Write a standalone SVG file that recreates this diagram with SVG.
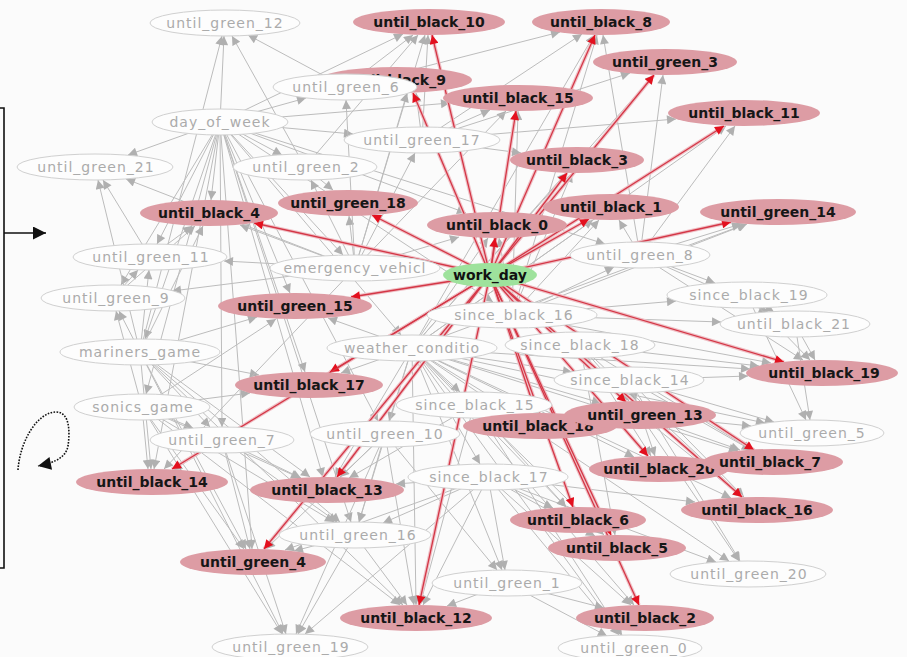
<svg xmlns="http://www.w3.org/2000/svg" width="907" height="657" viewBox="0 0 907 657">
<defs>
<marker id="ag" viewBox="0 0 10 10" refX="10" refY="5" markerWidth="10" markerHeight="9" markerUnits="userSpaceOnUse" orient="auto"><path d="M0,0L10,5L0,10z" fill="#b0b0b0"/></marker>
<marker id="ar" viewBox="0 0 10 10" refX="10" refY="5" markerWidth="11" markerHeight="9" markerUnits="userSpaceOnUse" orient="auto"><path d="M0,0L10,5L0,10z" fill="#e3101e"/></marker>
<marker id="ak" viewBox="0 0 10 10" refX="10" refY="5" markerWidth="16" markerHeight="13" markerUnits="userSpaceOnUse" orient="auto"><path d="M0,0L10,5L0,10z" fill="#111"/></marker>
<style>
.ge line{stroke:#bcbcbc;stroke-width:1;marker-end:url(#ag)}
.halo line{stroke:#efc0c6;stroke-width:3.6}
.re line{stroke:#d43646;stroke-width:1.3;marker-end:url(#ar)}
.pk ellipse{fill:#dd9ca4}
.pk text{font-family:"DejaVu Sans",sans-serif;font-size:14px;font-weight:bold;fill:#161616;text-anchor:middle}
.wh ellipse{fill:#fdfdfd;stroke:#d0d0d0;stroke-width:1}
.wh text{font-family:"DejaVu Sans",sans-serif;font-size:14px;fill:#ababab;letter-spacing:1px;text-anchor:middle}
.gr ellipse{fill:#9ee29c}
.gr text{font-family:"DejaVu Sans",sans-serif;font-size:14px;font-weight:bold;fill:#111;text-anchor:middle}
</style>
</defs>
<rect width="907" height="657" fill="#fbfbfb"/>

<!-- side bracket and legend arrows -->
<g id="legend" fill="none" stroke="#111">
<path d="M0,108H4V568H0" stroke-width="1.6"/>
<line x1="4" y1="233" x2="46" y2="233" stroke-width="1.6" marker-end="url(#ak)"/>
<path d="M18,470C20,440 38,412 56,412C70,412 70,432 68,446C66,456 58,462 38,466" stroke-width="1.6" stroke-dasharray="1.6 1.4" marker-end="url(#ak)"/>
</g>

<g id="connectors">
<g class="ge">
<!-- day_of_week -->
<line x1="220" y1="122" x2="128" y2="155"/><line x1="220" y1="122" x2="211" y2="200"/><line x1="220" y1="122" x2="157" y2="244"/><line x1="220" y1="122" x2="121" y2="285"/><line x1="220" y1="122" x2="224" y2="36"/><line x1="220" y1="122" x2="353" y2="134"/><line x1="220" y1="122" x2="306" y2="98"/><line x1="220" y1="122" x2="403" y2="34"/><line x1="220" y1="122" x2="282" y2="155"/><line x1="220" y1="122" x2="145" y2="339"/><line x1="220" y1="122" x2="146" y2="394"/><line x1="220" y1="122" x2="222" y2="427"/><line x1="220" y1="122" x2="154" y2="469"/><line x1="220" y1="122" x2="305" y2="372"/><line x1="220" y1="122" x2="290" y2="293"/><line x1="220" y1="122" x2="323" y2="477"/><line x1="220" y1="122" x2="252" y2="549"/><line x1="220" y1="122" x2="378" y2="421"/><line x1="220" y1="122" x2="351" y2="522"/><line x1="220" y1="122" x2="493" y2="302"/><line x1="220" y1="122" x2="466" y2="213"/><line x1="220" y1="122" x2="605" y2="244"/><line x1="220" y1="122" x2="343" y2="255"/><line x1="220" y1="122" x2="401" y2="335"/><line x1="220" y1="122" x2="450" y2="103"/>
<!-- mariners_game -->
<line x1="140" y1="352" x2="119" y2="311"/><line x1="140" y1="352" x2="149" y2="270"/><line x1="140" y1="352" x2="98" y2="180"/><line x1="140" y1="352" x2="203" y2="226"/><line x1="140" y1="352" x2="222" y2="36"/><line x1="140" y1="352" x2="151" y2="469"/><line x1="140" y1="352" x2="210" y2="427"/><line x1="140" y1="352" x2="246" y2="549"/><line x1="140" y1="352" x2="283" y2="634"/><line x1="140" y1="352" x2="310" y2="477"/><line x1="140" y1="352" x2="340" y2="522"/><line x1="140" y1="352" x2="403" y2="605"/><line x1="140" y1="352" x2="259" y2="375"/><line x1="140" y1="352" x2="257" y2="317"/>
<!-- sonics_game -->
<line x1="142" y1="407" x2="148" y2="469"/><line x1="142" y1="407" x2="193" y2="428"/><line x1="142" y1="407" x2="244" y2="549"/><line x1="142" y1="407" x2="282" y2="634"/><line x1="142" y1="407" x2="334" y2="522"/><line x1="142" y1="407" x2="250" y2="393"/><line x1="142" y1="407" x2="276" y2="319"/><line x1="142" y1="407" x2="400" y2="605"/><line x1="142" y1="407" x2="116" y2="311"/><line x1="142" y1="407" x2="300" y2="478"/>
<!-- weather_conditio -->
<line x1="412" y1="348" x2="341" y2="373"/><line x1="412" y1="348" x2="328" y2="318"/><line x1="412" y1="348" x2="389" y2="421"/><line x1="412" y1="348" x2="460" y2="392"/><line x1="412" y1="348" x2="335" y2="477"/><line x1="412" y1="348" x2="359" y2="522"/><line x1="412" y1="348" x2="416" y2="605"/><line x1="412" y1="348" x2="502" y2="570"/><line x1="412" y1="348" x2="480" y2="464"/><line x1="412" y1="348" x2="519" y2="414"/><line x1="412" y1="348" x2="566" y2="507"/><line x1="412" y1="348" x2="604" y2="535"/><line x1="412" y1="348" x2="601" y2="403"/><line x1="412" y1="348" x2="634" y2="457"/><line x1="412" y1="348" x2="621" y2="635"/><line x1="412" y1="348" x2="634" y2="605"/><line x1="412" y1="348" x2="750" y2="369"/><line x1="412" y1="348" x2="765" y2="423"/><line x1="412" y1="348" x2="572" y2="372"/><line x1="412" y1="348" x2="729" y2="561"/><line x1="412" y1="348" x2="738" y2="451"/><line x1="412" y1="348" x2="731" y2="498"/><line x1="412" y1="348" x2="488" y2="238"/><line x1="412" y1="348" x2="593" y2="220"/><line x1="412" y1="348" x2="566" y2="173"/><line x1="412" y1="348" x2="746" y2="224"/><line x1="412" y1="348" x2="726" y2="126"/><line x1="412" y1="348" x2="654" y2="75"/><line x1="412" y1="348" x2="594" y2="35"/>
<!-- emergency_vehicl -->
<line x1="355" y1="268" x2="311" y2="180"/><line x1="355" y1="268" x2="349" y2="216"/><line x1="355" y1="268" x2="415" y2="153"/><line x1="355" y1="268" x2="425" y2="35"/><line x1="355" y1="268" x2="407" y2="93"/><line x1="355" y1="268" x2="506" y2="111"/><line x1="355" y1="268" x2="346" y2="100"/><line x1="355" y1="268" x2="240" y2="225"/><line x1="355" y1="268" x2="224" y2="261"/><line x1="355" y1="268" x2="172" y2="291"/><line x1="355" y1="268" x2="164" y2="469"/><line x1="355" y1="268" x2="126" y2="179"/><line x1="355" y1="268" x2="459" y2="237"/>
<!-- since_black_16 -->
<line x1="512" y1="315" x2="499" y2="238"/><line x1="512" y1="315" x2="599" y2="220"/><line x1="512" y1="315" x2="572" y2="173"/><line x1="512" y1="315" x2="614" y2="267"/><line x1="512" y1="315" x2="771" y2="363"/><line x1="512" y1="315" x2="676" y2="301"/><line x1="512" y1="315" x2="721" y2="322"/><line x1="512" y1="315" x2="747" y2="224"/><line x1="512" y1="315" x2="518" y2="111"/><line x1="512" y1="315" x2="597" y2="35"/>
<!-- until_green_8 -->
<line x1="640" y1="255" x2="741" y2="224"/><line x1="640" y1="255" x2="735" y2="126"/><line x1="640" y1="255" x2="663" y2="75"/><line x1="640" y1="255" x2="619" y2="220"/><line x1="640" y1="255" x2="715" y2="283"/><line x1="640" y1="255" x2="768" y2="312"/><line x1="640" y1="255" x2="803" y2="360"/><line x1="640" y1="255" x2="603" y2="35"/>
<!-- since_black_19, until_black_21 -->
<line x1="747" y1="295" x2="774" y2="312"/><line x1="747" y1="295" x2="810" y2="360"/><line x1="747" y1="295" x2="806" y2="420"/>
<line x1="795" y1="324" x2="815" y2="360"/><line x1="795" y1="324" x2="810" y2="420"/>
<!-- since_black_14 -->
<line x1="629" y1="380" x2="748" y2="376"/><line x1="629" y1="380" x2="636" y2="401"/><line x1="629" y1="380" x2="751" y2="450"/><line x1="629" y1="380" x2="655" y2="456"/><line x1="629" y1="380" x2="744" y2="497"/><line x1="629" y1="380" x2="774" y2="422"/><line x1="629" y1="380" x2="740" y2="561"/>
<!-- since_black_18 -->
<line x1="580" y1="345" x2="759" y2="366"/><line x1="580" y1="345" x2="629" y2="401"/><line x1="580" y1="345" x2="752" y2="450"/><line x1="580" y1="345" x2="651" y2="456"/><line x1="580" y1="345" x2="743" y2="497"/><line x1="580" y1="345" x2="615" y2="535"/>
<!-- since_black_17 -->
<line x1="488" y1="477" x2="423" y2="605"/><line x1="488" y1="477" x2="505" y2="570"/><line x1="488" y1="477" x2="553" y2="508"/><line x1="488" y1="477" x2="595" y2="536"/><line x1="488" y1="477" x2="631" y2="605"/><line x1="488" y1="477" x2="619" y2="635"/><line x1="488" y1="477" x2="716" y2="562"/><line x1="488" y1="477" x2="695" y2="502"/><line x1="488" y1="477" x2="396" y2="484"/><line x1="488" y1="477" x2="383" y2="523"/><line x1="488" y1="477" x2="305" y2="634"/><line x1="488" y1="477" x2="285" y2="550"/>
<!-- until_green_10 -->
<line x1="385" y1="434" x2="340" y2="477"/><line x1="385" y1="434" x2="359" y2="522"/><line x1="385" y1="434" x2="414" y2="605"/><line x1="385" y1="434" x2="266" y2="549"/><line x1="385" y1="434" x2="296" y2="634"/><line x1="385" y1="434" x2="497" y2="570"/>
<!-- until_green_7 -->
<line x1="222" y1="440" x2="173" y2="470"/><line x1="222" y1="440" x2="250" y2="549"/><line x1="222" y1="440" x2="301" y2="478"/><line x1="222" y1="440" x2="286" y2="634"/><line x1="222" y1="440" x2="337" y2="522"/>
<!-- since_black_15 -->
<line x1="474" y1="405" x2="566" y2="507"/><line x1="474" y1="405" x2="349" y2="478"/><line x1="474" y1="405" x2="420" y2="605"/><line x1="474" y1="405" x2="622" y2="635"/>
<!-- until_green_17 -->
<line x1="422" y1="140" x2="490" y2="110"/><line x1="422" y1="140" x2="428" y2="35"/><line x1="422" y1="140" x2="416" y2="93"/><line x1="422" y1="140" x2="521" y2="153"/><line x1="422" y1="140" x2="582" y2="34"/><line x1="422" y1="140" x2="630" y2="73"/><line x1="422" y1="140" x2="676" y2="119"/>
<!-- until_green_2, until_green_6 -->
<line x1="305" y1="167" x2="333" y2="190"/><line x1="305" y1="167" x2="418" y2="35"/><line x1="305" y1="167" x2="232" y2="36"/>
<line x1="345" y1="87" x2="413" y2="35"/><line x1="345" y1="87" x2="248" y2="35"/><line x1="345" y1="87" x2="560" y2="32"/>
<!-- lower greens -->
<line x1="507" y1="583" x2="447" y2="606"/><line x1="507" y1="583" x2="604" y2="608"/><line x1="507" y1="583" x2="607" y2="636"/>
<line x1="355" y1="535" x2="298" y2="634"/><line x1="355" y1="535" x2="407" y2="605"/><line x1="355" y1="535" x2="294" y2="551"/>
<line x1="640" y1="415" x2="751" y2="426"/><line x1="640" y1="415" x2="740" y2="450"/><line x1="640" y1="415" x2="742" y2="497"/><line x1="640" y1="415" x2="739" y2="561"/>
<!-- left greens -->
<line x1="150" y1="257" x2="103" y2="180"/><line x1="150" y1="257" x2="192" y2="226"/>
<line x1="113" y1="298" x2="138" y2="270"/><line x1="113" y1="298" x2="195" y2="226"/>
</g>
<g class="halo">
<line x1="490" y1="275" x2="432" y2="35"/><line x1="490" y1="275" x2="595" y2="35"/><line x1="490" y1="275" x2="654" y2="75"/><line x1="490" y1="275" x2="724" y2="126"/><line x1="490" y1="275" x2="413" y2="93"/><line x1="490" y1="275" x2="516" y2="111"/><line x1="490" y1="275" x2="567" y2="173"/><line x1="490" y1="275" x2="372" y2="215"/><line x1="490" y1="275" x2="589" y2="219"/><line x1="490" y1="275" x2="731" y2="222"/><line x1="490" y1="275" x2="495" y2="238"/><line x1="490" y1="275" x2="254" y2="223"/><line x1="490" y1="275" x2="351" y2="297"/><line x1="490" y1="275" x2="330" y2="372"/><line x1="490" y1="275" x2="172" y2="469"/><line x1="490" y1="275" x2="337" y2="477"/><line x1="490" y1="275" x2="264" y2="549"/><line x1="490" y1="275" x2="419" y2="605"/><line x1="490" y1="275" x2="536" y2="413"/><line x1="490" y1="275" x2="626" y2="402"/><line x1="490" y1="275" x2="648" y2="456"/><line x1="490" y1="275" x2="754" y2="450"/><line x1="490" y1="275" x2="742" y2="497"/><line x1="490" y1="275" x2="573" y2="507"/><line x1="490" y1="275" x2="611" y2="535"/><line x1="490" y1="275" x2="639" y2="605"/><line x1="490" y1="275" x2="784" y2="362"/>
</g>
<g class="re">
<line x1="490" y1="275" x2="432" y2="35"/><line x1="490" y1="275" x2="595" y2="35"/><line x1="490" y1="275" x2="654" y2="75"/><line x1="490" y1="275" x2="724" y2="126"/><line x1="490" y1="275" x2="413" y2="93"/><line x1="490" y1="275" x2="516" y2="111"/><line x1="490" y1="275" x2="567" y2="173"/><line x1="490" y1="275" x2="372" y2="215"/><line x1="490" y1="275" x2="589" y2="219"/><line x1="490" y1="275" x2="731" y2="222"/><line x1="490" y1="275" x2="495" y2="238"/><line x1="490" y1="275" x2="254" y2="223"/><line x1="490" y1="275" x2="351" y2="297"/><line x1="490" y1="275" x2="330" y2="372"/><line x1="490" y1="275" x2="172" y2="469"/><line x1="490" y1="275" x2="337" y2="477"/><line x1="490" y1="275" x2="264" y2="549"/><line x1="490" y1="275" x2="419" y2="605"/><line x1="490" y1="275" x2="536" y2="413"/><line x1="490" y1="275" x2="626" y2="402"/><line x1="490" y1="275" x2="648" y2="456"/><line x1="490" y1="275" x2="754" y2="450"/><line x1="490" y1="275" x2="742" y2="497"/><line x1="490" y1="275" x2="573" y2="507"/><line x1="490" y1="275" x2="611" y2="535"/><line x1="490" y1="275" x2="639" y2="605"/><line x1="490" y1="275" x2="784" y2="362"/>
</g>
</g>

<!-- variables without evidence -->
<g id="until_green_12" class="wh"><ellipse cx="225" cy="23" rx="75" ry="13"/><text x="225" y="28">until_green_12</text></g>
<g id="day_of_week" class="wh"><ellipse cx="220" cy="122" rx="68" ry="13"/><text x="220" y="127">day_of_week</text></g>
<g id="until_green_21" class="wh"><ellipse cx="95" cy="167" rx="78" ry="13"/><text x="96" y="172">until_green_21</text></g>
<g id="until_green_17" class="wh"><ellipse cx="422" cy="140" rx="78" ry="13"/><text x="422" y="145">until_green_17</text></g>
<g id="until_green_2" class="wh"><ellipse cx="305" cy="167" rx="72" ry="13"/><text x="306" y="172">until_green_2</text></g>
<g id="until_green_11" class="wh"><ellipse cx="150" cy="257" rx="77" ry="13"/><text x="151" y="262">until_green_11</text></g>
<g id="until_green_9" class="wh"><ellipse cx="113" cy="298" rx="72" ry="13"/><text x="116" y="303">until_green_9</text></g>
<g id="emergency_vehicl" class="wh"><ellipse cx="355" cy="268" rx="85" ry="13"/><text x="355" y="273">emergency_vehicl</text></g>
<g id="until_green_8" class="wh"><ellipse cx="640" cy="255" rx="70" ry="13"/><text x="640" y="260">until_green_8</text></g>
<g id="since_black_19" class="wh"><ellipse cx="747" cy="295" rx="80" ry="13"/><text x="749" y="300">since_black_19</text></g>
<g id="until_black_21" class="wh"><ellipse cx="795" cy="324" rx="75" ry="13"/><text x="794" y="329">until_black_21</text></g>
<g id="since_black_16" class="wh"><ellipse cx="512" cy="315" rx="85" ry="13"/><text x="514" y="320">since_black_16</text></g>
<g id="mariners_game" class="wh"><ellipse cx="140" cy="352" rx="80" ry="13"/><text x="140" y="357">mariners_game</text></g>
<g id="weather_conditio" class="wh"><ellipse cx="412" cy="348" rx="85" ry="13"/><text x="412" y="353">weather_conditio</text></g>
<g id="since_black_18" class="wh"><ellipse cx="580" cy="345" rx="75" ry="13"/><text x="580" y="350">since_black_18</text></g>
<g id="since_black_14" class="wh"><ellipse cx="629" cy="380" rx="75" ry="13"/><text x="630" y="385">since_black_14</text></g>
<g id="sonics_game" class="wh"><ellipse cx="142" cy="407" rx="68" ry="13"/><text x="143" y="412">sonics_game</text></g>
<g id="since_black_15" class="wh"><ellipse cx="474" cy="405" rx="78" ry="13"/><text x="475" y="410">since_black_15</text></g>
<g id="until_green_7" class="wh"><ellipse cx="222" cy="440" rx="72" ry="13"/><text x="222" y="445">until_green_7</text></g>
<g id="until_green_10" class="wh"><ellipse cx="385" cy="434" rx="75" ry="13"/><text x="385" y="439">until_green_10</text></g>
<g id="since_black_17" class="wh"><ellipse cx="488" cy="477" rx="80" ry="13"/><text x="489" y="482">since_black_17</text></g>
<g id="until_green_16" class="wh"><ellipse cx="355" cy="535" rx="76" ry="13"/><text x="358" y="540">until_green_16</text></g>
<g id="until_green_5" class="wh"><ellipse cx="812" cy="433" rx="72" ry="13"/><text x="812" y="438">until_green_5</text></g>
<g id="until_green_20" class="wh"><ellipse cx="748" cy="574" rx="78" ry="13"/><text x="749" y="579">until_green_20</text></g>
<g id="until_green_1" class="wh"><ellipse cx="507" cy="583" rx="75" ry="13"/><text x="507" y="588">until_green_1</text></g>
<g id="until_green_19" class="wh"><ellipse cx="290" cy="647" rx="78" ry="13"/><text x="291" y="652">until_green_19</text></g>
<g id="until_green_0" class="wh"><ellipse cx="630" cy="648" rx="72" ry="13"/><text x="634" y="653">until_green_0</text></g>

<!-- variables set by work_day -->
<g id="until_black_10" class="pk"><ellipse cx="429" cy="22" rx="76" ry="13"/><text x="429" y="27">until_black_10</text></g>
<g id="until_black_8" class="pk"><ellipse cx="601" cy="22" rx="69" ry="13"/><text x="601" y="27">until_black_8</text></g>
<g id="until_green_3" class="pk"><ellipse cx="665" cy="62" rx="72" ry="13"/><text x="665" y="67">until_green_3</text></g>
<g id="until_black_11" class="pk"><ellipse cx="744" cy="113" rx="76" ry="13"/><text x="744" y="118">until_black_11</text></g>
<g id="until_black_9" class="pk"><ellipse cx="396" cy="80" rx="76" ry="13"/><text x="395" y="85">until_black_9</text></g>
<g id="until_black_15" class="pk"><ellipse cx="518" cy="98" rx="75" ry="13"/><text x="518" y="103">until_black_15</text></g>
<g id="until_black_3" class="pk"><ellipse cx="577" cy="160" rx="67" ry="13"/><text x="577" y="165">until_black_3</text></g>
<g id="until_green_18" class="pk"><ellipse cx="348" cy="203" rx="70" ry="13"/><text x="348" y="208">until_green_18</text></g>
<g id="until_black_1" class="pk"><ellipse cx="611" cy="207" rx="68" ry="13"/><text x="611" y="212">until_black_1</text></g>
<g id="until_green_14" class="pk"><ellipse cx="778" cy="212" rx="78" ry="13"/><text x="778" y="217">until_green_14</text></g>
<g id="until_black_0" class="pk"><ellipse cx="497" cy="225" rx="70" ry="13"/><text x="497" y="230">until_black_0</text></g>
<g id="until_black_4" class="pk"><ellipse cx="209" cy="213" rx="69" ry="13"/><text x="209" y="218">until_black_4</text></g>
<g id="until_green_15" class="pk"><ellipse cx="295" cy="306" rx="77" ry="13"/><text x="295" y="311">until_green_15</text></g>
<g id="until_black_17" class="pk"><ellipse cx="309" cy="385" rx="74" ry="13"/><text x="309" y="390">until_black_17</text></g>
<g id="until_black_18" class="pk"><ellipse cx="540" cy="426" rx="77" ry="13"/><text x="538" y="431">until_black_18</text></g>
<g id="until_green_13" class="pk"><ellipse cx="640" cy="415" rx="76" ry="14"/><text x="645" y="420">until_green_13</text></g>
<g id="until_black_20" class="pk"><ellipse cx="659" cy="469" rx="70" ry="13"/><text x="659" y="474">until_black_20</text></g>
<g id="until_black_7" class="pk"><ellipse cx="773" cy="462" rx="70" ry="13"/><text x="770" y="467">until_black_7</text></g>
<g id="until_black_16" class="pk"><ellipse cx="757" cy="510" rx="76" ry="13"/><text x="757" y="515">until_black_16</text></g>
<g id="until_black_6" class="pk"><ellipse cx="578" cy="520" rx="68" ry="13"/><text x="578" y="525">until_black_6</text></g>
<g id="until_black_5" class="pk"><ellipse cx="617" cy="548" rx="69" ry="13"/><text x="617" y="553">until_black_5</text></g>
<g id="until_black_2" class="pk"><ellipse cx="645" cy="618" rx="69" ry="13"/><text x="645" y="623">until_black_2</text></g>
<g id="until_black_12" class="pk"><ellipse cx="416" cy="618" rx="76" ry="13"/><text x="416" y="623">until_black_12</text></g>
<g id="until_green_4" class="pk"><ellipse cx="253" cy="562" rx="73" ry="13"/><text x="253" y="567">until_green_4</text></g>
<g id="until_black_13" class="pk"><ellipse cx="327" cy="490" rx="77" ry="13"/><text x="327" y="495">until_black_13</text></g>
<g id="until_black_14" class="pk"><ellipse cx="152" cy="482" rx="76" ry="13"/><text x="152" y="487">until_black_14</text></g>
<g id="until_black_19" class="pk"><ellipse cx="822" cy="373" rx="76" ry="13"/><text x="824" y="378">until_black_19</text></g>

<g id="until_green_6" class="wh"><ellipse cx="345" cy="87" rx="72" ry="13"/><text x="346" y="92">until_green_6</text></g>

<g id="work_day" class="gr"><ellipse cx="490" cy="275" rx="47" ry="12"/><text x="490" y="280">work_day</text></g>
</svg>
